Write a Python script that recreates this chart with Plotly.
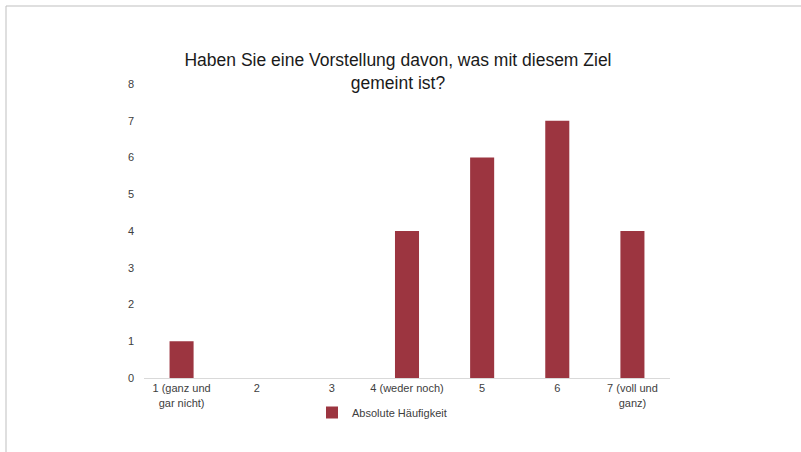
import plotly.graph_objects as go

categories = ["1 (ganz und<br>gar nicht)", "2", "3", "4 (weder noch)", "5", "6", "7 (voll und<br>ganz)"]
values = [1, 0, 0, 4, 6, 7, 4]
series_name = "Absolute Häufigkeit"
title_text = "Haben Sie eine Vorstellung davon, was mit diesem Ziel<br>gemeint ist?"

W, H = 801, 452
L, R, T, B = 144, 131, 84, 74
pw, ph = W - L - R, H - T - B

def px_x(p):
    return (p - L) / pw

def px_y(p):
    return (H - B - p) / ph

fig = go.Figure()
fig.add_trace(go.Bar(x=categories, y=values, name=series_name,
                     marker=dict(color="#9c3540", line=dict(width=0)),
                     showlegend=True))

fig.update_layout(
    width=W, height=H,
    margin=dict(l=L, r=R, t=T, b=B, autoexpand=False),
    paper_bgcolor="white", plot_bgcolor="white",
    font=dict(family="Liberation Sans, Arial, sans-serif", color="#404040", size=11),
    bargap=0.68,
    title=dict(text=title_text, x=398 / W, xanchor="center", y=1 - 66 / H, yanchor="top",
               font=dict(size=17.5, color="#1a1a1a")),
    xaxis=dict(showgrid=False, showline=True, linecolor="#d9d9d9", linewidth=1,
               ticks="", tickfont=dict(size=11, color="#404040"), tickangle=0,
               automargin=False, fixedrange=True),
    yaxis=dict(range=[0, 8], dtick=1, showgrid=False, showline=False, zeroline=False,
               ticks="", tickfont=dict(size=11, color="#404040"), ticklabelstandoff=9,
               automargin=False, fixedrange=True),
    legend=dict(orientation="h", x=382 / W, xref="container", xanchor="center",
                y=1 - 398 / H, yref="container", yanchor="top",
                font=dict(size=11, color="#404040"), itemwidth=30),
    shapes=[
        dict(type="line", xref="paper", yref="paper", x0=px_x(6), x1=px_x(W + 5),
             y0=px_y(6), y1=px_y(6), line=dict(color="#bfbfbf", width=1)),
        dict(type="line", xref="paper", yref="paper", x0=px_x(6), x1=px_x(6),
             y0=px_y(6), y1=px_y(H + 5), line=dict(color="#bfbfbf", width=1)),
    ],
)

fig.write_html("out.html", config={"displayModeBar": False},
               post_script="document.body.style.margin='0';")
